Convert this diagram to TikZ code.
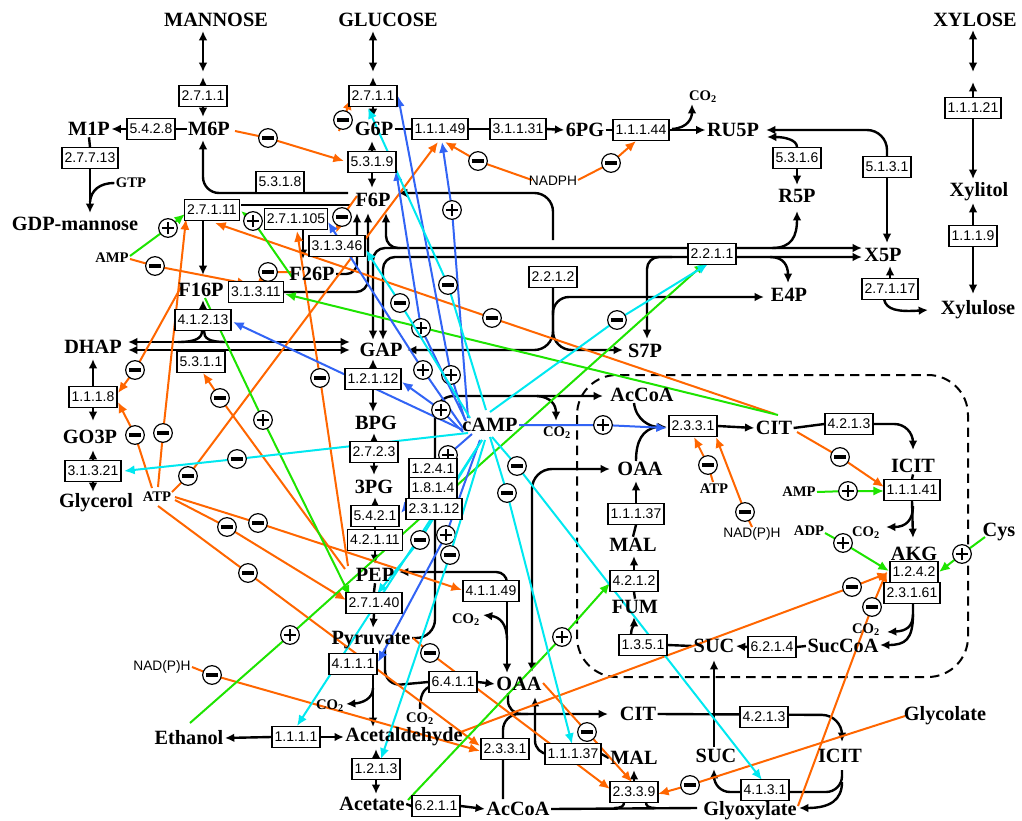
\documentclass[tikz,border=0pt]{standalone}
\usepackage{fontspec}
\setmainfont{Liberation Serif}
\newfontfamily\hvf{Liberation Sans}
\usetikzlibrary{arrows.meta}
\pgfdeclarelayer{bg}
\pgfsetlayers{bg,main}
\definecolor{cor}{RGB}{255,102,0}
\definecolor{cgr}{RGB}{30,228,0}
\definecolor{cbl}{RGB}{50,100,245}
\definecolor{ccy}{RGB}{0,232,240}
\tikzset{
 met/.style={font=\bfseries\fontsize{15.2}{16}\selectfont,inner sep=1pt},
 sml/.style={font=\bfseries\fontsize{11}{12}\selectfont,inner sep=1pt},
 sft/.style={font=\hvf\fontsize{10.3}{11}\selectfont,inner sep=1pt},
 enz/.style={draw,fill=white,font=\hvf\fontsize{10.5}{11}\selectfont,inner xsep=2pt,inner ysep=0pt,minimum height=15.5pt,line width=0.9pt},
 ln/.style={line width=1.8pt},
 ar/.style={ln,-{Latex[length=7pt,width=6.5pt]}},
 ar2/.style={ln,{Latex[length=7pt,width=6.5pt]}-{Latex[length=7pt,width=6.5pt]}},
 reg/.style={line width=1.5pt,-{Latex[length=8pt,width=7pt]}},
 ora/.style={reg,cor}, gra/.style={reg,cgr}, bla/.style={reg,cbl}, cya/.style={reg,ccy},
 cir/.style={circle,draw=black,fill=white,line width=0.9pt,minimum size=14pt,inner sep=0pt},
 mi/.style={cir,path picture={\draw[black,-,line width=2.3pt] ([xshift=-4.6pt]path picture bounding box.center) -- ([xshift=4.6pt]path picture bounding box.center);}},
 pl/.style={cir,path picture={\draw[black,-,line width=1.9pt] ([xshift=-4.8pt]path picture bounding box.center) -- ([xshift=4.8pt]path picture bounding box.center) ([yshift=-4.8pt]path picture bounding box.center) -- ([yshift=4.8pt]path picture bounding box.center);}},
 dbox/.style={line width=1.5pt,dash pattern=on 7pt off 4.5pt,rounded corners=30pt}
}
\begin{document}
\begin{tikzpicture}[x=0.75pt,y=-0.75pt]
\useasboundingbox (0,0) rectangle (1022,821);
\begin{pgfonlayer}{bg}
\fill[white] (0,0) rectangle (1022,821);
\end{pgfonlayer}
% ---------------- metabolites
\node[met] (MAN) at (216,20) {MANNOSE};
\node[met] (GLC) at (388,20) {GLUCOSE};
\node[met] (XYL) at (975,20) {XYLOSE};
\node[met] (M1P) at (89,129) {M1P};
\node[met] (M6P) at (209,129) {M6P};
\node[met] (G6P) at (374,129) {G6P};
\node[met] (PG) at (585,130) {6PG};
\node[sml] (CO2a) at (703,97) {CO\textsubscript{2}};
\node[met] (RU5P) at (733,130) {RU5P};
\node[met] (R5P) at (797,196) {R5P};
\node[met] (X5P) at (883,255) {X5P};
\node[met] (E4P) at (789,295) {E4P};
\node[met] (S7P) at (645,351) {S7P};
\node[met] (XOL) at (979,192) {Xylitol};
\node[met] (XUL) at (978,310) {Xylulose};
\node[met] (GDP) at (75,224) {GDP-mannose};
\node[sml] (GTP) at (131,183) {GTP};
\node[met] (F6P) at (373,200) {F6P};
\node[met] (F26P) at (312,274) {F26P};
\node[met] (F16P) at (201,290) {F16P};
\node[sml] (AMPa) at (112,258) {AMP};
\node[met] (DHAP) at (93,347) {DHAP};
\node[met] (GAP) at (381,350) {GAP};
\node[met] (BPG) at (376,423) {BPG};
\node[met] (PG3) at (374,487) {3PG};
\node[met] (GO3P) at (90,437) {GO3P};
\node[met] (GLY) at (96,503) {Glycerol};
\node[sml] (ATPa) at (157,497) {ATP};
\node[met] (CAMP) at (490,425) {cAMP};
\node[sml] (CO2b) at (557,433) {CO\textsubscript{2}};
\node[met] (ACi) at (642,395) {AcCoA};
\node[met] (OAAi) at (640,469) {OAA};
\node[met] (CITi) at (774,428) {CIT};
\node[met] (ICITi) at (913,466) {ICIT};
\node[sml] (AMPb) at (799,492) {AMP};
\node[sml] (ATPb) at (714,489) {ATP};
\node[sft] (NADb) at (752,534) {NAD(P)H};
\node[sml] (ADP) at (809,531) {ADP};
\node[sml] (CO2c) at (866,533) {CO\textsubscript{2}};
\node[met] (AKG) at (914,554) {AKG};
\node[met] (CYS) at (999,532) {Cys};
\node[sml] (CO2d) at (866,630) {CO\textsubscript{2}};
\node[met] (SCOA) at (843,646) {SucCoA};
\node[met] (SUCi) at (714,646) {SUC};
\node[met] (FUM) at (635,607) {FUM};
\node[met] (MALi) at (633,545) {MAL};
\node[met] (PEP) at (375,575) {PEP};
\node[met] (PYR) at (371,640) {Pyruvate};
\node[sml] (CO2e) at (466,620) {CO\textsubscript{2}};
\node[sml] (CO2f) at (330,706) {CO\textsubscript{2}};
\node[sml] (CO2g) at (420,719) {CO\textsubscript{2}};
\node[met] (OAAo) at (519,684) {OAA};
\node[met] (CITo) at (638,714) {CIT};
\node[met] (ETH) at (189,738) {Ethanol};
\node[met] (ACD) at (404,737) {Acetaldehyde};
\node[met] (ACT) at (372,804) {Acetate};
\node[met] (ACo) at (518,809) {AcCoA};
\node[met] (MALo) at (634,758) {MAL};
\node[met] (SUCo) at (716,756) {SUC};
\node[met] (ICITo) at (840,756) {ICIT};
\node[met] (GLYC) at (945,716) {Glycolate};
\node[met] (GLX) at (750,811) {Glyoxylate};
\node[sft] (NADPH) at (553,181) {NADPH};
\node[sft] (NADa) at (162,667) {NAD(P)H};
% ---------------- enzymes
\node[enz] (m2711) at (203,96) {2.7.1.1};
\node[enz] (e5428) at (151,129) {5.4.2.8};
\node[enz] (e27713) at (90,158) {2.7.7.13};
\node[enz] (e5318) at (280,182) {5.3.1.8};
\node[enz] (g2711) at (373,96) {2.7.1.1};
\node[enz] (e11149) at (440,129) {1.1.1.49};
\node[enz] (e31131) at (518,129) {3.1.1.31};
\node[enz] (e11144) at (641,130) {1.1.1.44};
\node[enz] (e5319) at (372,162) {5.3.1.9};
\node[enz] (e5316) at (797,158) {5.3.1.6};
\node[enz] (e5131) at (887,167) {5.1.3.1};
\node[enz] (e27117) at (890,289) {2.7.1.17};
\node[enz] (e11121) at (973,108) {1.1.1.21};
\node[enz] (e1119) at (973,236) {1.1.1.9};
\node[enz] (e2211) at (712,254) {2.2.1.1};
\node[enz] (e2212) at (553,277) {2.2.1.2};
\node[enz] (e27111) at (212,210) {2.7.1.11};
\node[enz] (e271105) at (296,219) {2.7.1.105};
\node[enz] (e31346) at (337,246) {3.1.3.46};
\node[enz] (e31311) at (256,292) {3.1.3.11};
\node[enz] (e41213) at (203,320) {4.1.2.13};
\node[enz] (e5311) at (201,362) {5.3.1.1};
\node[enz] (e1118) at (93,397) {1.1.1.8};
\node[enz] (e31321) at (93,471) {3.1.3.21};
\node[enz] (e12112) at (373,379) {1.2.1.12};
\node[enz] (e2723) at (374,452) {2.7.2.3};
\node[enz] (e5421) at (375,516) {5.4.2.1};
\node[enz] (e42111) at (375,540) {4.2.1.11};
\node[enz] (e1241) at (433,469) {1.2.4.1};
\node[enz] (e1814) at (433,488) {1.8.1.4};
\node[enz] (e23112) at (434,509) {2.3.1.12};
\node[enz] (e27140) at (374,603) {2.7.1.40};
\node[enz] (e41149) at (491,591) {4.1.1.49};
\node[enz] (e4111) at (353,664) {4.1.1.1};
\node[enz] (e6411) at (453,682) {6.4.1.1};
\node[enz] (e1111) at (296,737) {1.1.1.1};
\node[enz] (e1213) at (376,769) {1.2.1.3};
\node[enz] (e6211) at (436,806) {6.2.1.1};
\node[enz] (e2331o) at (505,749) {2.3.3.1};
\node[enz] (e11137o) at (573,754) {1.1.1.37};
\node[enz] (e2339) at (634,792) {2.3.3.9};
\node[enz] (e4131) at (765,790) {4.1.3.1};
\node[enz] (e4213o) at (764,717) {4.2.1.3};
\node[enz] (e2331i) at (693,426) {2.3.3.1};
\node[enz] (e4213i) at (849,424) {4.2.1.3};
\node[enz] (e11141) at (912,490) {1.1.1.41};
\node[enz] (e1242) at (914,572) {1.2.4.2};
\node[enz] (e23161) at (912,593) {2.3.1.61};
\node[enz] (e11137i) at (636,514) {1.1.1.37};
\node[enz] (e4212) at (634,581) {4.2.1.2};
\node[enz] (e1351) at (643,645) {1.3.5.1};
\node[enz] (e6214) at (772,647) {6.2.1.4};
% ---------------- connectors
\begin{pgfonlayer}{bg}
\draw[dbox] (577,375) rectangle (968,677);
% hexose entry
\draw[ar2] (203,31) -- (203,72);
\draw[ar] (m2711.north) -- (203,77);
\draw[ar] (m2711.south) -- (203,117);
\draw[ar2] (373,31) -- (373,72);
\draw[ar] (g2711.north) -- (373,77);
\draw[ar] (g2711.south) -- (373,118);
\draw[ar2] (973,30) -- (973,72);
\draw[ar] (e11121.north) -- (973,82);
\draw[ar] (e11121.south) -- (973,179);
\draw[ar] (e1119.north) -- (973,203);
\draw[ar] (e1119.south) -- (973,294);
\draw[ln] (M6P.west) -- (e5428.east);
\draw[ar] (e5428.west) -- (M1P.east);
\draw[ln] (M1P.south) -- (e27713.north);
\draw[ar] (e27713.south) -- (90,213);
\draw[ln] (GTP.west) .. controls (100,183) and (91,190) .. (90,202);
\draw[ar,rounded corners=12pt] (348,193) -- (203,193) -- (203,140);
\draw[ar] (e5319.north) -- (372,141);
\draw[ar] (e5319.south) -- (372,188);
% oxidative PPP
\draw[ln] (G6P.east) -- (e11149.west);
\draw[ln] (e11149.east) -- (e31131.west);
\draw[ar] (e31131.east) -- (PG.west);
\draw[ln] (PG.east) -- (e11144.west);
\draw[ar] (e11144.east) -- (RU5P.west);
\draw[ar] (672,129) .. controls (688,128) and (692,118) .. (692,104);
\draw[ar,rounded corners=15pt] (e5131.north) -- (887,130) -- (766,130);
\draw[ar] (e5131.south) -- (887,243);
\draw[ar] (e5316.north) .. controls (797,140) and (785,137) .. (767,137);
\draw[ar] (e5316.south) -- (797,185);
\draw[ar] (e27117.north) -- (890,266);
\draw[ar] (884,299) .. controls (886,310) and (898,312) .. (928,310);
% transketolase / transaldolase
\draw[ar2,rounded corners=9pt] (386,213) -- (386,248) -- (862,248);
\draw[ar,rounded corners=9pt] (400,248) -- (373,248) -- (373,340);
\draw[ar2,rounded corners=9pt] (383,340) -- (383,257) -- (862,257);
\draw[ar] (772,248) .. controls (792,248) and (797,236) .. (797,211);
\draw[ar] (770,257) .. controls (784,257) and (788,266) .. (788,283);
\draw[ar,rounded corners=9pt] (672,257) -- (647,257) -- (647,339);
\draw[ar,rounded corners=14pt] (553,240) -- (553,193) -- (398,193);
\draw[ar,rounded corners=14pt] (e2212.south) -- (553,350) -- (407,350);
\draw[ar,rounded corners=14pt] (553,310) -- (553,350) -- (623,350);
\draw[ar,rounded corners=12pt] (553,315) -- (553,297) -- (764,297);
% upper glycolysis
\draw[ln] (241,205) -- (350,205);
\draw[ar] (203,220) -- (203,275);
\draw[ar] (303,230) -- (303,259);
\draw[ar,rounded corners=9pt] (e31311.east) -- (368,292) -- (368,213);
\draw[ar,rounded corners=8pt] (F26P.east) -- (357,274) -- (357,213);
\draw[ar2] (128,342) -- (350,342);
\draw[ar2] (128,350) -- (350,350);
\draw[ln] (178,342) .. controls (196,342) and (202,338) .. (202,331);
\draw[ln] (226,342) .. controls (208,342) and (204,338) .. (204,331);
\draw[ar] (e41213.north) -- (203,300);
\draw[ar] (e1118.north) -- (93,359);
\draw[ar] (e1118.south) -- (93,421);
\draw[ar] (e31321.north) -- (93,450);
\draw[ar] (e31321.south) -- (93,492);
% lower glycolysis
\draw[ar] (e12112.north) -- (373,359);
\draw[ar] (e12112.south) -- (373,412);
\draw[ar] (e2723.north) -- (374,433);
\draw[ar] (e2723.south) -- (374,475);
\draw[ar] (e5421.north) -- (375,497);
\draw[ln] (e5421.south) -- (e42111.north);
\draw[ar] (e42111.south) -- (375,564);
\draw[ln] (PEP.south) -- (e27140.north);
\draw[ar] (e27140.south) -- (373,628);
\draw[ar] (373,648) -- (373,727);
\draw[ar] (373,688) .. controls (373,699) and (362,703) .. (346,704);
\draw[ar] (e1213.north) -- (376,749);
\draw[ar] (e1213.south) -- (376,794);
\draw[ar] (e1111.west) -- (ETH.east);
\draw[ar] (e1111.east) -- (ACD.west);
\draw[ln] (ACT.east) -- (e6211.west);
\draw[ar] (e6211.east) -- (ACo.west);
% anaplerosis, PDH, transport
\draw[ln,rounded corners=12pt] (385,648) -- (385,686) -- (e6411.west);
\draw[ar] (e6411.east) -- (OAAo.west);
\draw[ln] (432,686) .. controls (423,688) and (420,696) .. (420,709);
\draw[ar,rounded corners=8pt] (507,581) -- (507,572) -- (399,572);
\draw[ar] (507,602) -- (507,673);
\draw[ar] (507,640) .. controls (507,624) and (500,617) .. (483,615);
\draw[ar,rounded corners=14pt] (412,638) -- (435,638) -- (435,396) -- (603,396);
\draw[ar] (537,396) .. controls (551,397) and (556,405) .. (556,421);
\draw[ar2,rounded corners=15pt] (532,672) -- (532,469) -- (610,469);
% cytosolic / glyoxylate cycle
\draw[ar,rounded corners=12pt] (503,799) -- (503,714) -- (608,714);
\draw[ln,rounded corners=10pt] (508,693) -- (508,714) -- (528,714);
\draw[ar,rounded corners=10pt] (e11137o.west) -- (535,754) -- (535,697);
\draw[ln] (e11137o.east) -- (MALo.west);
\draw[ar] (e2339.north) -- (634,770);
\draw[ln] (ACo.east) -- (697,808);
\draw[ln] (614,808) .. controls (622,808) and (624,806) .. (624,802);
\draw[ln] (656,808) .. controls (648,808) and (646,806) .. (646,802);
\draw[ar,rounded corners=15pt] (CITo.east) -- (842,715) -- (842,742);
\draw[ar] (714,747) -- (714,660);
\draw[ar,rounded corners=12pt] (842,770) -- (842,792) -- (714,792) -- (714,769);
\draw[ar] (842,782) .. controls (842,800) and (830,808) .. (799,808);
% mitochondrial TCA
\draw[ar] (634,403) .. controls (636,420) and (650,427) .. (667,427);
\draw[ln] (636,461) .. controls (636,440) and (643,430) .. (656,427);
\draw[ar] (e2331i.east) -- (CITi.west);
\draw[ln] (CITi.east) -- (e4213i.west);
\draw[ar,rounded corners=14pt] (e4213i.east) -- (913,424) -- (913,450);
\draw[ln] (ICITi.south) -- (e11141.north);
\draw[ar] (e11141.south) -- (913,538);
\draw[ar] (913,506) .. controls (913,520) and (906,527) .. (886,527);
\draw[ar] (913,604) -- (913,614) .. controls (913,627) and (906,631) .. (887,632);
\draw[ar] (913,614) .. controls (913,640) and (905,645) .. (880,645);
\draw[ln] (SCOA.west) -- (e6214.east);
\draw[ar] (e6214.west) -- (SUCi.east);
\draw[ln] (SUCi.west) -- (e1351.east);
\draw[ar] (631,635) .. controls (631,628) and (634,625) .. (634,617);
\draw[ln] (FUM.north) -- (e4212.south);
\draw[ar] (e4212.north) -- (634,556);
\draw[ln] (MALi.north) -- (e11137i.south);
\draw[ar] (e11137i.north) -- (636,481);
% ---------- regulation: orange
\draw[ora] (235,131) -- (268,138) node[mi]{} -- (344,161);
\draw[ora] (532,180) -- (478,161) node[mi]{} -- (445,142);
\draw[ora] (578,180) -- (611,163) node[mi]{} -- (636,141);
\draw[ora] (357,196) -- (342,217) node[mi]{} -- (336,233);
\draw[ora] (339,131) -- (343,120) node[mi]{} -- (351,99);
\draw[ora] (172,492) -- (188,476) node[mi]{} -- (438,142);
\draw[ora] (158,487) -- (163,433) node[mi]{} -- (186,219);
\draw[ora] (152,488) -- (135,435) node[mi]{} -- (118,402);
\draw[ora] (181,287) -- (135,370) node[mi]{} -- (118,393);
\draw[ora] (130,259) -- (155,266) node[mi]{} -- (248,284);
\draw[ora] (291,272) -- (268,272) node[mi]{} -- (257,284);
\draw[ora] (775,414) -- (492,318) node[mi]{} -- (215,223);
\draw[ora] (348,566) -- (320,378) node[mi]{} -- (297,231);
\draw[ora] (345,569) -- (220,398) node[mi]{} -- (203,373);
\draw[ora] (175,500) -- (227,527) node[mi]{} -- (346,600);
\draw[ora] (175,497) -- (258,523) node[mi]{} -- (462,590);
\draw[ora] (158,506) -- (248,573) node[mi]{} -- (480,746);
\draw[ora] (192,667) -- (212,675) node[mi]{} -- (480,751);
\draw[ora] (413,638) -- (430,653) node[mi]{} -- (610,789);
\draw[ora] (543,683) -- (587,732) node[mi]{} -- (632,782);
\draw[ora] (905,716) -- (690,785) node[mi]{} -- (658,794);
\draw[ora] (798,806) -- (872,607) node[mi]{} -- (887,571);
\draw[ora] (458,733) -- (852,587) node[mi]{} -- (888,573);
\draw[ora] (797,432) -- (840,457) node[mi]{} -- (884,487);
\draw[ora] (713,482) -- (708,465) node[mi]{} -- (694,437);
\draw[ora] (752,527) -- (745,512) node[mi]{} -- (716,437);
% green
\draw[gra] (130,256) -- (168,228) node[pl]{} -- (185,214);
\draw[gra] (292,277) -- (253,221) node[pl]{} -- (241,211);
\draw[gra] (778,415) -- (285,294);
\draw[gra] (205,298) -- (263,420) node[pl]{} -- (350,596);
\draw[gra] (190,723) -- (290,635) node[pl]{} -- (705,263);
\draw[gra] (408,800) -- (562,637) node[pl]{} -- (610,583);
\draw[gra] (817,492) -- (848,491) node[pl]{} -- (884,491);
\draw[gra] (825,533) -- (843,543) node[pl]{} -- (889,571);
\draw[gra] (985,537) -- (962,554) node[pl]{} -- (939,572);
% blue
\draw[bla] (465,420) -- (451,375) node[pl]{} -- (398,96);
\draw[bla] (466,421) -- (421,328) node[pl]{} -- (396,170);
\draw[bla] (468,418) -- (452,210) node[pl]{} -- (442,142);
\draw[bla] (463,428) -- (423,370) node[pl]{} -- (328,222);
\draw[bla] (463,430) -- (233,322);
\draw[bla] (463,432) -- (441,410) node[pl]{} -- (402,382);
\draw[bla] (472,434) -- (448,455) node[pl]{} -- (401,513);
\draw[bla] (480,440) -- (446,535) node[pl]{} -- (378,662);
\draw[bla] (519,425) -- (603,425) node[pl]{} -- (667,428);
% cyan
\draw[cya] (486,410) -- (448,285) node[mi]{} -- (368,108);
\draw[cya] (470,418) -- (400,303) node[mi]{} -- (366,250);
\draw[cya] (468,433) -- (237,459) node[mi]{} -- (124,471);
\draw[cya] (490,412) -- (617,320) node[mi]{} -- (708,264);
\draw[cya] (482,440) -- (297,726);
\draw[cya] (485,440) -- (450,555) node[mi]{} -- (381,759);
\draw[cya] (482,440) -- (420,540) node[mi]{} -- (377,594);
\draw[cya] (490,437) -- (507,493) node[mi]{} -- (572,744);
\draw[cya] (492,437) -- (517,466) node[mi]{} -- (762,780);
\end{pgfonlayer}
\end{tikzpicture}
\end{document}
